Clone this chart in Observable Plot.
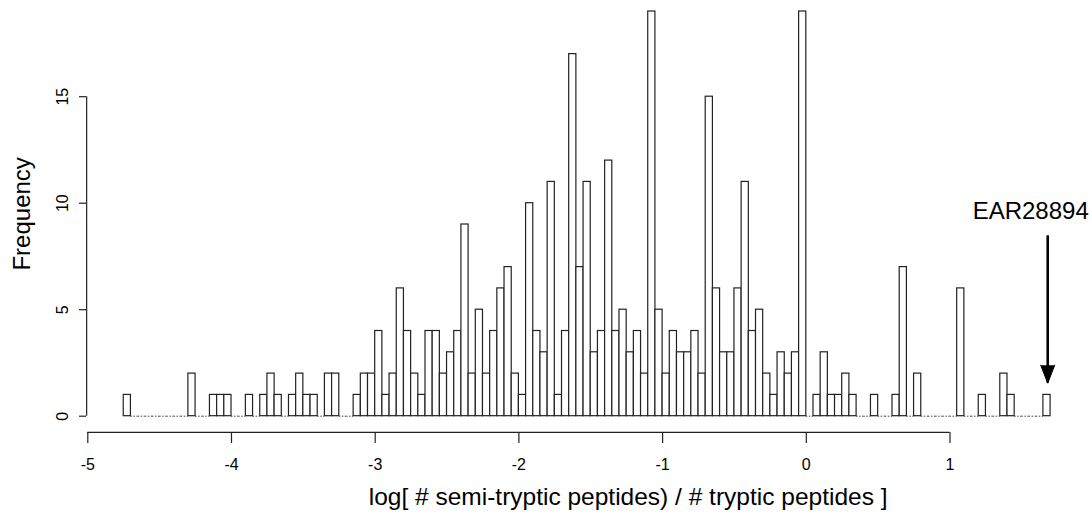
<!DOCTYPE html>
<html>
<head>
<meta charset="utf-8">
<script src="https://cdn.jsdelivr.net/npm/d3@7"></script>
<script src="https://cdn.jsdelivr.net/npm/@observablehq/plot@0.6"></script>
<style>
  html, body { margin: 0; padding: 0; background: #fff; }
</style>
</head>
<body>
<div id="chart"></div>
<script>
// ---- data ----
const binStart = -4.75;   // left edge of first bin
const binWidth = 0.05;    // histogram bin width
const counts = [
  1,0,0,0,0,0,0,0,0,2,
  0,0,1,1,1,0,0,1,0,1,
  2,1,0,1,2,1,1,0,2,2,
  0,0,1,2,2,4,1,2,6,4,
  2,1,4,4,2,3,4,9,2,5,
  2,4,6,7,2,1,10,4,3,11,
  1,4,17,7,11,3,4,12,4,5,
  3,4,2,19,5,2,4,3,3,4,
  2,15,6,3,3,6,11,4,5,2,
  1,3,2,3,19,0,1,3,1,1,
  2,1,0,0,1,0,0,1,7,0,
  2,0,0,0,0,0,6,0,0,1,
  0,0,2,1,0,0,0,0,1
];
const xTicks = [-5, -4, -3, -2, -1, 0, 1];
const yTicks = [0, 5, 10, 15];
const xLabel = "log[ # semi-tryptic peptides) / # tryptic peptides ]";
const yLabel = "Frequency";
const annotationLabel = "EAR28894";
const annotationX = 1.68;      // position of the annotated protein
const arrowFrom = 8;           // arrow tail (frequency units)
const arrowTo = 1.55;          // arrow tip (frequency units)

// ---- derived tables ----
const bins = counts.map((c, i) => ({
  x1: binStart + i * binWidth,
  x2: binStart + (i + 1) * binWidth,
  count: c
}));
const maxCount = d3.max(counts);
const binEnd = binStart + counts.length * binWidth;
// R-style axis offsets (4% of data range)
const xAxisY = -0.04 * maxCount;
const yAxisX = binStart - 0.04 * (binEnd - binStart);
const yMid = (xAxisY + maxCount * 1.04) / 2;

const font = "'Liberation Sans', Arial, Helvetica, sans-serif";

const chart = Plot.plot({
  width: 1092,
  height: 516,
  marginLeft: 86,
  marginRight: 0,
  marginTop: 0,
  marginBottom: 84,
  style: { fontFamily: font, fontSize: "16px", background: "#fff", color: "#000", overflow: "visible" },
  x: { domain: [-5, 1], range: [87.3, 949.5] },
  y: { domain: [0, 15], range: [415.7, 96.2] },
  marks: [
    // zero-count bins drawn as baseline
    Plot.ruleY(bins.filter(d => d.count === 0), {
      x1: "x1", x2: "x2", y: 0, stroke: "#444", strokeWidth: 1, strokeDasharray: "1.5,1.5"
    }),
    Plot.rectY(bins.filter(d => d.count > 0), {
      x1: "x1", x2: "x2", y: "count", fill: "#fff", stroke: "#222", strokeWidth: 1.2
    }),
    // axis lines
    Plot.ruleY([xAxisY], { x1: xTicks[0], x2: xTicks[xTicks.length - 1], stroke: "#222", strokeWidth: 1.2 }),
    Plot.ruleX([yAxisX], { y1: yTicks[0], y2: yTicks[yTicks.length - 1], stroke: "#222", strokeWidth: 1.2 }),
    Plot.axisX({
      ticks: xTicks, tickSize: 11, tickPadding: 15, tickFormat: d => String(d),
      fontSize: 16, label: null, stroke: "#222", strokeWidth: 1.2
    }),
    Plot.axisY({
      ticks: yTicks, tickSize: 7, tickFormat: () => "", label: null, stroke: "#222", strokeWidth: 1.2
    }),
    Plot.text(yTicks, {
      y: d => d, text: d => String(d), frameAnchor: "left", dx: -24, rotate: -90,
      textAnchor: "middle", lineAnchor: "middle", fontSize: 16
    }),
    // axis titles
    Plot.text([yLabel], {
      y: yMid, frameAnchor: "left", dx: -64, rotate: -90,
      textAnchor: "middle", lineAnchor: "middle", fontSize: 24
    }),
    Plot.text([xLabel], {
      x: -1.24, frameAnchor: "bottom", dy: 65, textAnchor: "middle", lineAnchor: "middle", fontSize: 24.5
    }),
    // annotation
    Plot.text([annotationLabel], { x: annotationX, y: 9.6, dx: -17, fontSize: 24 }),
    Plot.ruleX([annotationX], { y1: arrowTo, y2: arrowFrom, insetBottom: 10, stroke: "#000", strokeWidth: 2.6 }),
    Plot.vector([annotationX], {
      x: d => d, y: arrowTo, anchor: "end", rotate: 180, length: 18, r: 7,
      shape: "spike", fill: "#000", stroke: "#000", strokeWidth: 1
    })
  ]
});
document.getElementById("chart").appendChild(chart);
</script>
</body>
</html>
